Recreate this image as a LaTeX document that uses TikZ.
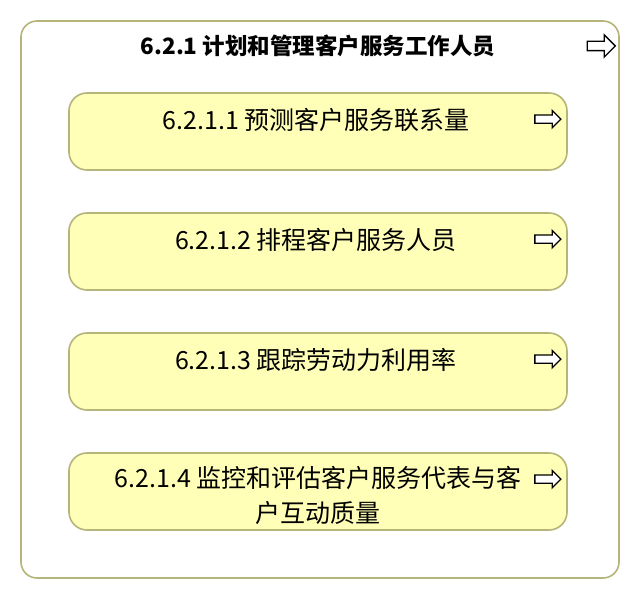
\documentclass[tikz,border=0pt]{standalone}
\usepackage{fontspec}
\setmainfont{Noto Sans CJK SC}
\usepackage{tikz}
\usetikzlibrary{shapes.arrows,positioning}

\definecolor{frameline}{RGB}{181,181,122}
\definecolor{taskfill}{RGB}{255,255,183}

\begin{document}
\begin{tikzpicture}[%
		x=1pt,y=1pt,
		frame/.style={%
			draw=frameline,%
			line width=1.6pt,%
			rounded corners=16pt,%
			fill=white},%
		task/.style={%
			draw=frameline,%
			line width=1.6pt,%
			rounded corners=18pt,%
			fill=taskfill,%
			minimum width=498pt,%
			minimum height=77pt,%
			inner sep=0pt},%
		tasklabel/.style={%
			anchor=north,%
			inner sep=0pt,%
			align=center,%
			font=\fontsize{25}{35}\selectfont},%
		goarrow/.style={%
			single arrow,%
			draw=black,%
			fill=white,%
			line width=1.3pt,%
			inner sep=3.5pt,%
			minimum height=26pt,%
			single arrow head extend=4.5pt}
		]

		\useasboundingbox (0,0) rectangle (640,600);

		% outer process
		\draw[frame] (21,22) rectangle (619,579);
		\node[font=\fontsize{22.5}{26}\selectfont\bfseries,anchor=north,inner sep=0pt] (title) at (318,565) {6.2.1 计划和管理客户服务工作人员};
		\node[goarrow,minimum height=28pt,inner sep=4pt,single arrow head extend=6.5pt] (titlego) at (599,554) {};

		% sub processes
		\node[task] (plan1) at (318,468.5) {};
		\node[task] (plan2) at (318,348.5) {};
		\node[task] (plan3) at (318,228.5) {};
		\node[task] (plan4) at (318,108.5) {};

		% labels
		\node[tasklabel,below=16pt of plan1.north,xshift=-2pt] (text1) {6.2.1.1 预测客户服务联系量};
		\node[tasklabel,below=16pt of plan2.north,xshift=-2pt] (text2) {6.2.1.2 排程客户服务人员};
		\node[tasklabel,below=16pt of plan3.north,xshift=-2pt] (text3) {6.2.1.3 跟踪劳动力利用率};
		\node[tasklabel,below=14pt of plan4.north] (text4) {6.2.1.4 监控和评估客户服务代表与客\\户互动质量};

		% drill-down arrows
		\node[goarrow] (go1) at ([xshift=-22pt,yshift=-27pt]plan1.north east) {};
		\node[goarrow] (go2) at ([xshift=-22pt,yshift=-27pt]plan2.north east) {};
		\node[goarrow] (go3) at ([xshift=-22pt,yshift=-27pt]plan3.north east) {};
		\node[goarrow] (go4) at ([xshift=-22pt,yshift=-27pt]plan4.north east) {};
	\end{tikzpicture}
\end{document}
